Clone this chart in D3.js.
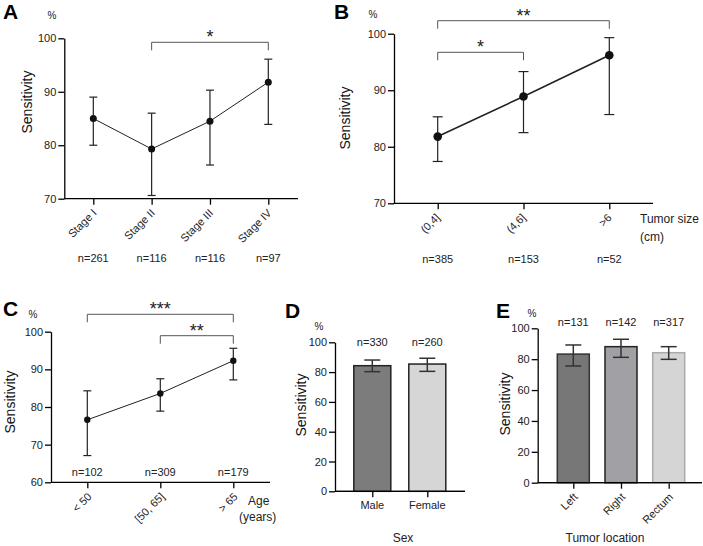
<!DOCTYPE html>
<html>
  <head>
    <title>Sensitivity panels</title>
    <style>
      body { margin: 0; background: #fff; }
      svg { font-family: Arial, "Liberation Sans", sans-serif; }
      .axis path, .axis line { stroke: #000; stroke-width: 1.3; }
      .axis text { font-size: 11px; fill: #222; }
      .lbl { font-size: 11px; fill: #222; }
      .ytitle { font-size: 14px; fill: #111; }
      .panel { font-size: 21px; font-weight: bold; fill: #000; }
    </style>
    <script src="https://d3js.org/d3.v7.min.js"></script>
  </head>
  <body>
    <div id="chart"></div>
    <script>
// A: stage
var stageCats = ["Stage I", "Stage II", "Stage III", "Stage IV"];
var stageMean = [85.0, 79.3, 84.5, 91.8];
var stageLow  = [80.0, 70.6, 76.3, 83.9];
var stageHigh = [89.0, 86.0, 90.3, 96.1];
var stageN    = ["n=261", "n=116", "n=116", "n=97"];
var stageSig  = [[1, 3, "*"]];

// B: tumor size
var sizeCats = ["(0,4]", "(4,6]", ">6"];
var sizeMean = [81.8, 88.9, 96.2];
var sizeLow  = [77.4, 82.5, 85.7];
var sizeHigh = [85.3, 93.3, 99.3];
var sizeN    = ["n=385", "n=153", "n=52"];
var sizeSig  = [[0, 2, "**"], [0, 1, "*"]];

// C: age
var ageCats = ["< 50", "[50, 65]", "> 65"];
var ageMean = [76.6, 83.6, 92.3];
var ageLow  = [67.1, 78.9, 87.2];
var ageHigh = [84.3, 87.5, 95.6];
var ageN    = ["n=102", "n=309", "n=179"];
var ageSig  = [[0, 2, "***"], [1, 2, "**"]];

// D: sex
var sexCats = ["Male", "Female"];
var sexMean = [84.3, 85.4];
var sexLow  = [80.3, 80.5];
var sexHigh = [88.1, 89.3];
var sexN    = ["n=330", "n=260"];

// E: location
var locCats = ["Left", "Right", "Rectum"];
var locMean = [83.3, 88.1, 84.2];
var locLow  = [75.6, 81.2, 79.9];
var locHigh = [89.2, 92.9, 88.1];
var locN    = ["n=131", "n=142", "n=317"];

var yTicksA = [70, 80, 90, 100];
var yTicksC = [60, 70, 80, 90, 100];
var yTicksBar = [0, 20, 40, 60, 80, 100];

var svg = d3.select("#chart").append("svg")
  .attr("width", 703)
  .attr("height", 546);

function rows(cats, mean, low, high, n) {
  return cats.map((c, i) => ({cat: c, mean: mean[i], low: low[i], high: high[i], n: n[i]}));
}

// common axes + labels
function frame(p, x, y, ticks) {
  var g = svg.append("g");
  var y0 = y.range()[0];

  g.append("g")
    .attr("class", "axis")
    .attr("transform", `translate(${p.axisX},0)`)
    .call(d3.axisLeft(y).tickValues(ticks).tickSize(6).tickPadding(2).tickSizeOuter(0));

  // x axis: baseline + ticks at categories
  g.append("line")
    .attr("x1", p.axisX).attr("x2", p.axisEnd)
    .attr("y1", y0).attr("y2", y0)
    .attr("stroke", "#000").attr("stroke-width", 1.3);
  var xa = g.append("g")
    .attr("class", "axis")
    .attr("transform", `translate(0,${y0})`)
    .call(d3.axisBottom(x).tickSize(6).tickSizeOuter(0).tickFormat(""));
  xa.select(".domain").remove();

  // category labels
  if (p.rotate) {
    g.selectAll(".xl").data(x.domain()).enter()
      .append("text")
      .attr("class", "lbl")
      .attr("text-anchor", "end")
      .attr("transform", d => `translate(${x(d) + p.rotDx},${y0 + p.rotDy}) rotate(-45)`)
      .text(d => d);
  } else {
    g.selectAll(".xl").data(x.domain()).enter()
      .append("text")
      .attr("class", "lbl")
      .attr("text-anchor", "middle")
      .attr("x", d => x(d))
      .attr("y", y0 + 18)
      .text(d => d);
  }

  g.append("text").attr("class", "panel")
    .attr("x", p.letterX).attr("y", p.letterY).text(p.letter);
  g.append("text").attr("class", "lbl").style("font-size", "10px")
    .attr("text-anchor", "middle")
    .attr("x", p.pctX).attr("y", p.pctY).text("%");
  g.append("text").attr("class", "ytitle")
    .attr("text-anchor", "middle")
    .attr("transform", `translate(${p.titleX},${p.titleY}) rotate(-90)`)
    .text("Sensitivity");
  return g;
}

function nLabels(g, data, x, yPos) {
  g.selectAll(".nl").data(data).enter()
    .append("text")
    .attr("class", "lbl")
    .attr("text-anchor", "middle")
    .attr("x", d => x(d.cat))
    .attr("y", yPos)
    .text(d => d.n);
}

function brackets(g, sig, cats, x, p) {
  sig.forEach(function(s, i) {
    var by = p.bracketY[i];
    var xa = x(cats[s[0]]), xb = x(cats[s[1]]);
    g.append("path")
      .attr("d", `M${xa},${by + 8}V${by}H${xb}V${by + 8}`)
      .attr("fill", "none")
      .attr("stroke", "#555")
      .attr("stroke-width", 1);
    g.append("text")
      .attr("text-anchor", "middle")
      .attr("x", (xa + xb) / 2)
      .attr("y", by + 1)
      .style("font-size", "18px")
      .style("fill", "#222")
      .text(s[2]);
  });
}

function linePanel(p, data, sig, ticks) {
  var x = d3.scalePoint().domain(data.map(d => d.cat)).range(p.xr);
  var y = d3.scaleLinear().domain(p.yd).range(p.yr);
  var g = frame(p, x, y, ticks);

  var line = d3.line().x(d => x(d.cat)).y(d => y(d.mean));
  g.append("path")
    .attr("d", line(data))
    .attr("fill", "none")
    .attr("stroke", "#222")
    .attr("stroke-width", p.lw);

  var eb = g.selectAll(".eb").data(data).enter().append("g").attr("stroke", "#222").attr("stroke-width", 1.2);
  eb.append("line")
    .attr("x1", d => x(d.cat)).attr("x2", d => x(d.cat))
    .attr("y1", d => y(d.low)).attr("y2", d => y(d.high));
  eb.append("line")
    .attr("x1", d => x(d.cat) - p.cap).attr("x2", d => x(d.cat) + p.cap)
    .attr("y1", d => y(d.low)).attr("y2", d => y(d.low));
  eb.append("line")
    .attr("x1", d => x(d.cat) - p.cap).attr("x2", d => x(d.cat) + p.cap)
    .attr("y1", d => y(d.high)).attr("y2", d => y(d.high));

  g.selectAll(".dot").data(data).enter()
    .append("circle")
    .attr("cx", d => x(d.cat))
    .attr("cy", d => y(d.mean))
    .attr("r", p.r)
    .attr("fill", "#111");

  nLabels(g, data, x, p.nY);
  brackets(g, sig, data.map(d => d.cat), x, p);
  return g;
}

function barPanel(p, data, ticks) {
  var x = d3.scalePoint().domain(data.map(d => d.cat)).range(p.xr);
  var y = d3.scaleLinear().domain([0, 100]).range(p.yr);
  var g = frame(p, x, y, ticks);

  g.selectAll(".bar").data(data).enter()
    .append("rect")
    .attr("x", d => x(d.cat) - p.bw / 2)
    .attr("width", p.bw)
    .attr("y", d => y(d.mean))
    .attr("height", d => y(0) - y(d.mean))
    .attr("fill", (d, i) => p.fills[i])
    .attr("stroke", (d, i) => p.strokes[i])
    .attr("stroke-width", 1.5);

  var eb = g.selectAll(".eb").data(data).enter().append("g").attr("stroke", "#333").attr("stroke-width", 1.5);
  eb.append("line")
    .attr("x1", d => x(d.cat)).attr("x2", d => x(d.cat))
    .attr("y1", d => y(d.low)).attr("y2", d => y(d.high));
  eb.append("line")
    .attr("x1", d => x(d.cat) - 8).attr("x2", d => x(d.cat) + 8)
    .attr("y1", d => y(d.low)).attr("y2", d => y(d.low));
  eb.append("line")
    .attr("x1", d => x(d.cat) - 8).attr("x2", d => x(d.cat) + 8)
    .attr("y1", d => y(d.high)).attr("y2", d => y(d.high));

  // bring the x axis line on top of bars
  g.append("line")
    .attr("x1", p.axisX).attr("x2", p.axisEnd)
    .attr("y1", y(0)).attr("y2", y(0))
    .attr("stroke", "#000").attr("stroke-width", 1.3);

  nLabels(g, data, x, p.nY);
  return g;
}

// A
linePanel({
  xr: [93.3, 268.3], yd: [70, 100], yr: [198.7, 38.3],
  axisX: 64.3, axisEnd: 298, rotate: true, rotDx: 4, rotDy: 15,
  letter: "A", letterX: 3, letterY: 19, pctX: 52, pctY: 19,
  titleX: 32, titleY: 102, nY: 262, lw: 1, r: 3.5, cap: 4,
  bracketY: [42.3]
}, rows(stageCats, stageMean, stageLow, stageHigh, stageN), stageSig, yTicksA);

// B
var gB = linePanel({
  xr: [437.7, 609.3], yd: [70, 100], yr: [203.3, 33.7],
  axisX: 394, axisEnd: 653, rotate: true, rotDx: 3, rotDy: 15,
  letter: "B", letterX: 334, letterY: 19, pctX: 373, pctY: 18,
  titleX: 350, titleY: 118, nY: 263, lw: 1.6, r: 4.3, cap: 5,
  bracketY: [20.7, 52.3]
}, rows(sizeCats, sizeMean, sizeLow, sizeHigh, sizeN), sizeSig, yTicksA);
gB.append("text").attr("class", "lbl").style("font-size", "12px").attr("x", 640).attr("y", 223).text("Tumor size");
gB.append("text").attr("class", "lbl").style("font-size", "12px").attr("x", 640).attr("y", 241).text("(cm)");

// C
var gC = linePanel({
  xr: [87.3, 233.3], yd: [60, 100], yr: [482.3, 331.7],
  axisX: 51, axisEnd: 270, rotate: true, rotDx: 5, rotDy: 15,
  letter: "C", letterX: 3, letterY: 316, pctX: 33, pctY: 318,
  titleX: 15, titleY: 402, nY: 476, lw: 1, r: 3.2, cap: 4,
  bracketY: [314.3, 335.7]
}, rows(ageCats, ageMean, ageLow, ageHigh, ageN), ageSig, yTicksC);
gC.append("text").attr("class", "lbl").style("font-size", "12px").attr("x", 248).attr("y", 505).text("Age");
gC.append("text").attr("class", "lbl").style("font-size", "12px").attr("x", 239).attr("y", 521).text("(years)");

// D
var gD = barPanel({
  xr: [372.3, 427.3], yr: [491.3, 342.3], bw: 37,
  axisX: 335, axisEnd: 465, rotate: false,
  letter: "D", letterX: 285, letterY: 318, pctX: 319, pctY: 330,
  titleX: 306, titleY: 405, nY: 346,
  fills: ["#7c7c7c", "#d6d6d6"], strokes: ["#222", "#222"]
}, rows(sexCats, sexMean, sexLow, sexHigh, sexN), yTicksBar);
gD.append("text").attr("class", "lbl").style("font-size", "12px").attr("text-anchor", "middle").attr("x", 403).attr("y", 542).text("Sex");

// E
var gE = barPanel({
  xr: [573.3, 668.7], yr: [482.7, 328.3], bw: 32,
  axisX: 537.7, axisEnd: 702, rotate: true, rotDx: 5, rotDy: 15,
  letter: "E", letterX: 496, letterY: 318, pctX: 532, pctY: 317,
  titleX: 510, titleY: 404, nY: 326,
  fills: ["#777777", "#a1a1a5", "#d5d5d5"], strokes: ["#333", "#222", "#aaa"]
}, rows(locCats, locMean, locLow, locHigh, locN), yTicksBar);
gE.append("text").attr("class", "lbl").style("font-size", "12px").attr("text-anchor", "middle").attr("x", 605).attr("y", 542).text("Tumor location");
    </script>
  </body>
</html>
